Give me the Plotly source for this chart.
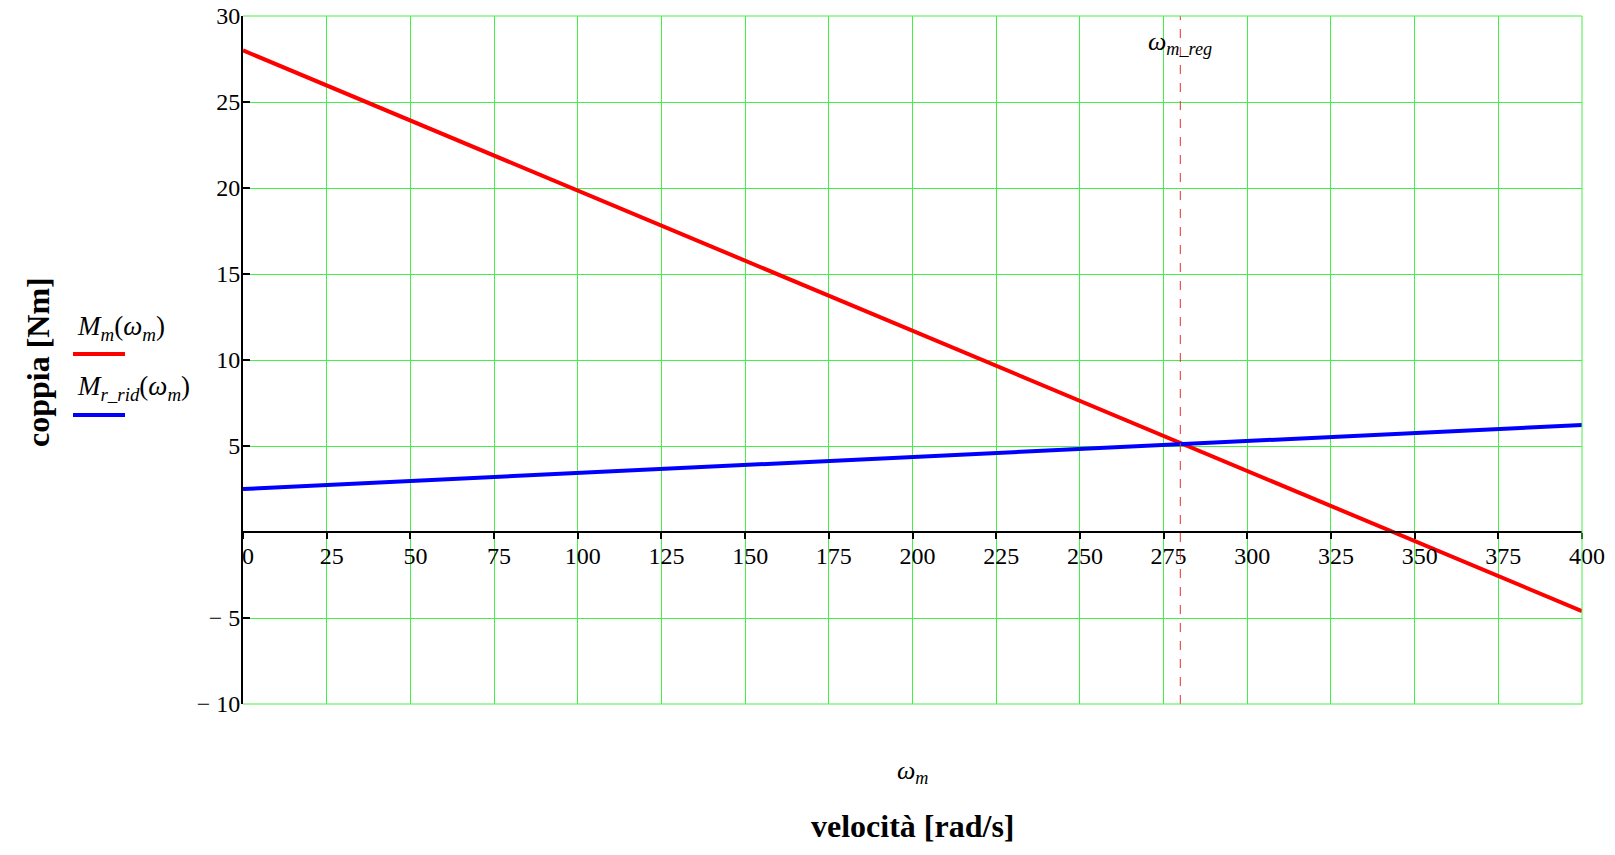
import plotly.graph_objects as go

# ---- data ----
omega = [0, 100, 200, 300, 400]                 # rad/s
M_m = [28.0, 19.85, 11.7, 3.55, -4.6]            # motor torque (Nm)
M_r_rid = [2.5, 3.43, 4.36, 5.29, 6.22]          # reduced load torque (Nm)
omega_reg = 280                                  # regime speed
x_ticks = list(range(0, 401, 25))
y_ticks = [-10, -5, 5, 10, 15, 20, 25, 30]
y_tick_text = ["\u2212 10", "\u2212 5", "5", "10", "15", "20", "25", "30"]

SERIF = "Liberation Serif"
GRID = "#44f044"

fig = go.Figure()
fig.add_trace(go.Scatter(x=omega, y=M_m, mode="lines",
                         line=dict(color="#ff0000", width=4), showlegend=False))
fig.add_trace(go.Scatter(x=omega, y=M_r_rid, mode="lines",
                         line=dict(color="#0000ff", width=4), showlegend=False))

# regime-speed marker
fig.add_shape(type="line", xref="x", yref="paper", x0=omega_reg, x1=omega_reg,
              y0=0, y1=1, line=dict(color="#e03030", width=1, dash="dash"))

fig.update_layout(
    width=1615, height=855,
    margin=dict(l=243, r=33, t=16, b=151),
    plot_bgcolor="white", paper_bgcolor="white",
    font=dict(family=SERIF, size=24, color="black"),
    xaxis=dict(range=[0, 400], tickvals=x_ticks,
               ticktext=[str(v) for v in x_ticks],
               anchor="free", position=0.25, automargin=False,
               showline=True, linecolor="black", linewidth=2,
               ticks="outside", ticklen=6, tickcolor="black", tickwidth=2,
               showgrid=True, gridcolor=GRID, gridwidth=1,
               zeroline=False, ticklabelshift=5, ticklabelstandoff=-4,
               tickfont=dict(family=SERIF, size=24)),
    yaxis=dict(range=[-10, 30], tickvals=y_ticks, ticktext=y_tick_text,
               automargin=False,
               showline=True, linecolor="black", linewidth=2,
               ticks="inside", ticklen=7, tickcolor="black", tickwidth=2,
               showgrid=True, gridcolor=GRID, gridwidth=1,
               zeroline=False, ticklabelstandoff=-4, ticklabeloverflow="allow",
               tickfont=dict(family=SERIF, size=24)),
)

# frame lines (top/right/bottom) in grid colour
fig.add_shape(type="line", xref="paper", yref="paper", x0=0, x1=1, y0=1, y1=1,
              line=dict(color=GRID, width=1))
fig.add_shape(type="line", xref="paper", yref="paper", x0=1, x1=1, y0=0, y1=1,
              line=dict(color=GRID, width=1))
fig.add_shape(type="line", xref="paper", yref="paper", x0=0, x1=1, y0=0, y1=0,
              line=dict(color=GRID, width=1))

# annotation at the regime line
fig.add_annotation(x=omega_reg, xref="x", y=1, yref="paper", yshift=-27,
                   text="<i>\u03c9</i><sub><i>m_reg</i></sub>", showarrow=False,
                   font=dict(family=SERIF, size=26), xanchor="center", yanchor="middle")

W = 1615 - 243 - 33
H = 855 - 16 - 151
def px2x(px):
    return (px - 243) / W
def py2y(py):
    return 1 - (py - 16) / H

# axis titles
fig.add_annotation(x=0.5, xref="paper", y=py2y(772), yref="paper",
                   text="<i>\u03c9</i><sub><i>m</i></sub>", showarrow=False,
                   font=dict(family=SERIF, size=26), xanchor="center", yanchor="middle")
fig.add_annotation(x=0.5, xref="paper", y=py2y(826), yref="paper",
                   text="<b>velocit\u00e0 [rad/s]</b>", showarrow=False,
                   font=dict(family=SERIF, size=32), xanchor="center", yanchor="middle")
fig.add_annotation(x=px2x(38), xref="paper", y=py2y(362), yref="paper",
                   text="<b>coppia [Nm]</b>", showarrow=False, textangle=-90,
                   font=dict(family=SERIF, size=32), xanchor="center", yanchor="middle")

# custom legend
fig.add_annotation(x=px2x(75), xref="paper", y=py2y(328), yref="paper",
                   text="<i>M</i><sub><i>m</i></sub>(<i>\u03c9</i><sub><i>m</i></sub>)",
                   showarrow=False, xanchor="left", yanchor="middle",
                   font=dict(family=SERIF, size=27))
fig.add_shape(type="line", xref="paper", yref="paper", x0=px2x(73), x1=px2x(125),
              y0=py2y(354), y1=py2y(354), line=dict(color="#ff0000", width=4))
fig.add_annotation(x=px2x(75), xref="paper", y=py2y(388), yref="paper",
                   text="<i>M</i><sub><i>r_rid</i></sub>(<i>\u03c9</i><sub><i>m</i></sub>)",
                   showarrow=False, xanchor="left", yanchor="middle",
                   font=dict(family=SERIF, size=27))
fig.add_shape(type="line", xref="paper", yref="paper", x0=px2x(73), x1=px2x(125),
              y0=py2y(415), y1=py2y(415), line=dict(color="#0000ff", width=4))

fig.write_html("out.html")
